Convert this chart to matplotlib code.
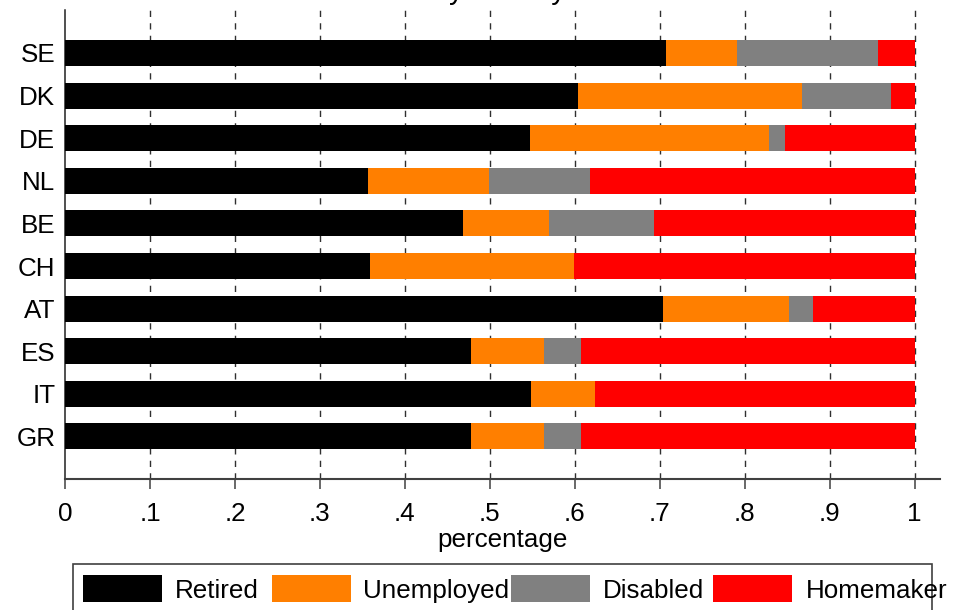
import matplotlib
matplotlib.use("Agg")
import matplotlib.pyplot as plt
from matplotlib.patches import Rectangle
import numpy as np

plt.rcParams['font.family'] = ['Liberation Sans', 'DejaVu Sans']

# Share of each inactivity status by country (rows sum to 1)
countries = ["SE", "DK", "DE", "NL", "BE", "CH", "AT", "ES", "IT", "GR"]
retired    = [0.707, 0.604, 0.547, 0.357, 0.469, 0.359, 0.704, 0.478, 0.549, 0.478]
unemployed = [0.084, 0.264, 0.282, 0.142, 0.101, 0.240, 0.148, 0.086, 0.075, 0.086]
disabled   = [0.166, 0.104, 0.019, 0.119, 0.123, 0.000, 0.029, 0.043, 0.000, 0.043]
homemaker  = [0.043, 0.028, 0.152, 0.382, 0.307, 0.401, 0.119, 0.393, 0.376, 0.393]

series_names = ["Retired", "Unemployed", "Disabled", "Homemaker"]
series_colors = ["#000000", "#FF7F00", "#808080", "#FF0000"]
xtick_vals = [0.0, 0.1, 0.2, 0.3, 0.4, 0.5, 0.6, 0.7, 0.8, 0.9, 1.0]
xtick_labels = ["0", ".1", ".2", ".3", ".4", ".5", ".6", ".7", ".8", ".9", "1"]

W, H = 967, 610
fig = plt.figure(figsize=(W / 100, H / 100), dpi=100)

def fx(px):
    return px / W

def fy(py):
    return 1 - py / H

ax_l, ax_r, ax_t, ax_b = 65, 940, 10.4, 479
ax = fig.add_axes([fx(ax_l), fy(ax_b), fx(ax_r) - fx(ax_l), fy(ax_t) - fy(ax_b)])

n = len(countries)
ypos = np.arange(n)[::-1]  # SE at top
left = np.zeros(n)
for vals, name, col in zip([retired, unemployed, disabled, homemaker], series_names, series_colors):
    vals = np.array(vals)
    ax.barh(ypos, vals, left=left, height=0.61, color=col, edgecolor='none', label=name, zorder=3)
    left += vals

ax.set_xlim(0, (ax_r - ax_l) / 849.5)
ax.set_ylim(-1, n)

ax.set_yticks(ypos)
ax.set_yticklabels(countries, fontsize=18.7)
ax.tick_params(axis='y', length=0, pad=7)

ax.set_xticks(xtick_vals)
ax.set_xticklabels(xtick_labels, fontsize=18.7)
ax.tick_params(axis='x', direction='out', length=7.2, width=1.1, color='#404040', pad=9.5)
ax.set_xlabel("percentage", fontsize=18.7, labelpad=1.5)

# dashed vertical reference lines
for v in xtick_vals[1:]:
    ax.axvline(v, color='#303030', lw=1.0, dashes=(4.5, 4.5), zorder=1)

for s in ['top', 'right']:
    ax.spines[s].set_visible(False)
ax.spines['left'].set_color('#202020')
ax.spines['left'].set_linewidth(1.1)
ax.spines['bottom'].set_color('#404040')
ax.spines['bottom'].set_linewidth(1.5)

# title sits mostly above the canvas edge
fig.text(fx(499), fy(-1), "by country", fontsize=20.7, ha='center', va='baseline')

# legend box
fig.add_artist(Rectangle((fx(73), fy(640)), fx(932) - fx(73), fy(564) - fy(640),
                         transform=fig.transFigure, fill=False, edgecolor='#404040', lw=1.2))
patch_x = [83, 272, 511, 713]
text_x = [175, 363, 603, 806]
for px, tx, name, col in zip(patch_x, text_x, series_names, series_colors):
    fig.add_artist(Rectangle((fx(px), fy(602)), fx(79), fy(575) - fy(602),
                             transform=fig.transFigure, facecolor=col, edgecolor='none'))
    fig.text(fx(tx), fy(588.5), name, fontsize=18.7, ha='left', va='center_baseline')

fig.savefig("out.png", dpi=100)
